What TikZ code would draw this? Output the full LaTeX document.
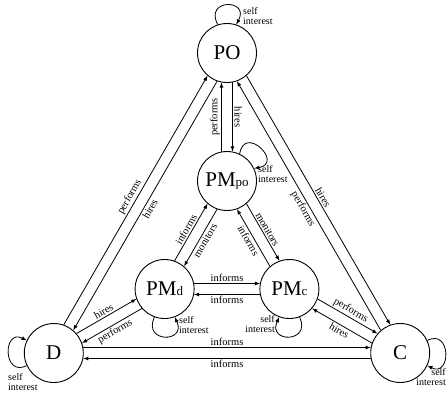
\documentclass[tikz,border=0pt]{standalone}
\usepackage{fontspec}
\setmainfont{Liberation Serif}
\usetikzlibrary{calc}
\def\gap{5.5pt}
\def\oneway[#1](#2)(#3:#4){\draw[link] ($(#2)!\gap!90:(#3)$) -- node[lab,#1] {#4} ($(#3)!\gap!-90:(#2)$);}
\newcommand\lowpart[1]{{\fontsize{13}{13}\selectfont #1}}

\begin{document}
\begin{tikzpicture}[x=1pt, y=1pt, >=latex,
	actor/.style={draw, circle, line width=0.9pt, minimum size=59pt, inner sep=0pt, font=\fontsize{21}{21}\selectfont},
	link/.style={->, line width=0.8pt, shorten <=29.4pt, shorten >=29.4pt},
	lab/.style={sloped, inner sep=1.5pt, font=\fontsize{10.5}{10.5}\selectfont},
	selfloop/.style={->, line width=0.8pt},
	selftext/.style={inner sep=0pt, font=\fontsize{10}{10}\selectfont}]
			%%%%% START %%%%%
			\useasboundingbox (0,0) rectangle (447,-392);
			
			\node[actor] (PO) at (227,-53) {PO};
			\node[actor] (PMpo) at (227,-181) {PM\lowpart{po}};
			\node[actor] (PMd) at (164.6,-289) {PM\lowpart{d}};
			\node[actor] (PMc) at (289.4,-289) {PM\lowpart{c}};
			\node[actor] (D) at (53.8,-353) {D};
			\node[actor] (C) at (400.2,-353) {C};
			
			% outer triangle
			\oneway[above](D)(PO:performs);
			\oneway[below](PO)(D:hires);
			\oneway[above](PO)(C:hires);
			\oneway[below](C)(PO:performs);
			\oneway[above](D)(C:informs);
			\oneway[below](C)(D:informs);
			
			% project owner and its manager
			\oneway[above](PMpo)(PO:performs);
			\oneway[above](PO)(PMpo:hires);
			
			% inner triangle
			\oneway[above](PMd)(PMpo:informs);
			\oneway[below](PMpo)(PMd:monitors);
			\oneway[below](PMc)(PMpo:informs);
			\oneway[above](PMpo)(PMc:monitors);
			\oneway[above](PMd)(PMc:informs);
			\oneway[below](PMc)(PMd:informs);
			
			% spokes
			\oneway[above](D)(PMd:hires);
			\oneway[below](PMd)(D:performs);
			\oneway[above](PMc)(C:performs);
			\oneway[below](C)(PMc:hires);
			
			% self interest
			\draw[selfloop] (PO.108) .. controls +(-14,26) and +(14,26) .. (PO.72);
			\node[selftext, align=left, anchor=west] (POself) at (243,-16) {self\\interest};
			
			\draw[selfloop] (PMpo.65) .. controls +(5,30) and +(30,5) .. (PMpo.25);
			\node[selftext, align=left, anchor=west] (PMpoself) at (258,-174) {self\\interest};
			
			\draw[selfloop] (PMd.-110) .. controls +(-12,-26) and +(12,-26) .. (PMd.-70);
			\node[selftext, align=left, anchor=west] (PMdself) at (179,-325) {self\\interest};
			
			\draw[selfloop] (PMc.-70) .. controls +(12,-26) and +(-12,-26) .. (PMc.-110);
			\node[selftext, align=right, anchor=east] (PMcself) at (275,-324) {self\\interest};
			
			\draw[selfloop] (D.205) .. controls +(-24,-12) and +(-24,12) .. (D.155);
			\node[selftext, align=left, anchor=west] (Dself) at (8,-382) {self\\interest};
			
			\draw[selfloop] (C.25) .. controls +(24,12) and +(24,-12) .. (C.-25);
			\node[selftext, align=right, anchor=east] (Cself) at (446,-377) {self\\interest};
			%%%%% END %%%%%
\end{tikzpicture}
\end{document}
